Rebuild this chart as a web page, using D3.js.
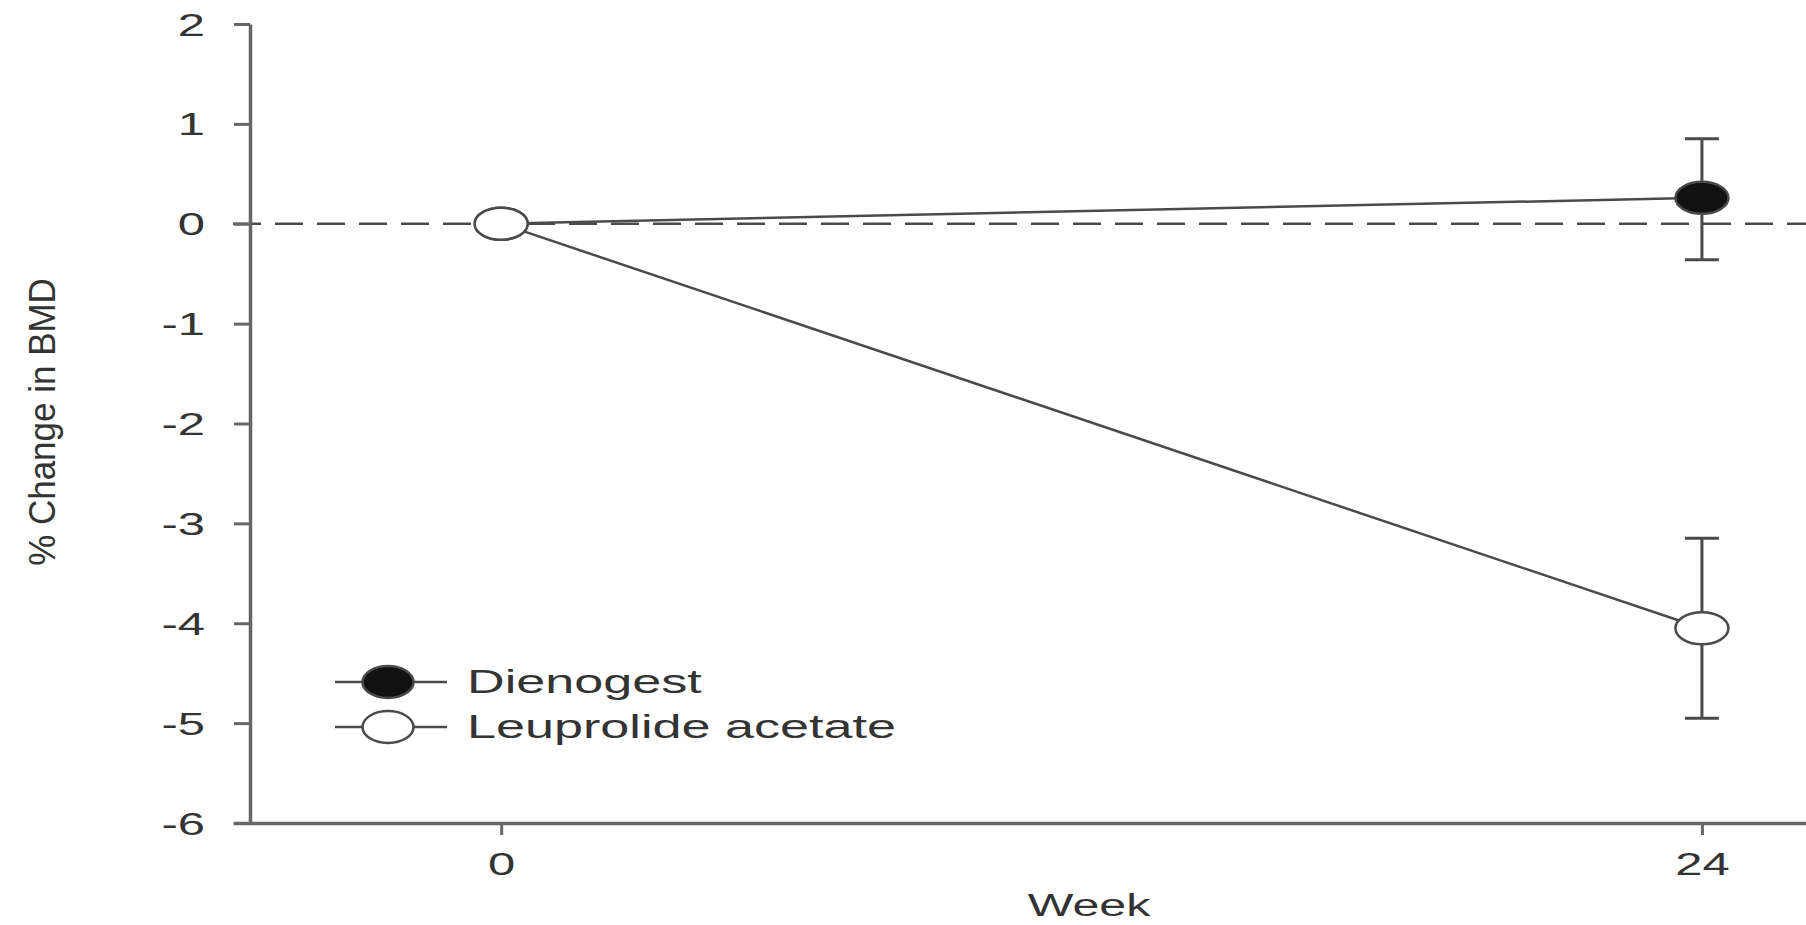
<!DOCTYPE html>
<html>
<head>
<meta charset="utf-8">
<script src="https://cdn.jsdelivr.net/npm/d3@7"></script>
<style>
  html, body { margin: 0; padding: 0; background: #fff; }
  svg { display: block; }
  text { font-family: "Liberation Sans", Arial, Helvetica, sans-serif; fill: #333; }
</style>
</head>
<body>
<svg id="chart" width="1806" height="925"></svg>
<script>
// ---- data ----
const weeks = [0, 24];
const xTickLabels = [0, 24];
const yTickLabels = [2, 1, 0, -1, -2, -3, -4, -5, -6];
const seriesNames = ["Dienogest", "Leuprolide acetate"];
const dienogestMean = [0, 0.26];
const dienogestLow  = [0, -0.36];
const dienogestHigh = [0, 0.85];
const leuprolideMean = [0, -4.05];
const leuprolideLow  = [0, -4.95];
const leuprolideHigh = [0, -3.15];
const yLabel = "% Change in BMD";
const xLabel = "Week";

// ---- layout ----
const SX = 1.58; // horizontal stretch of text in the reference
const svg = d3.select("#chart");
const x = d3.scaleLinear().domain([-5.36, 26.08]).range([233, 1806]);
const y = d3.scaleLinear().domain([-6, 2]).range([823, 24]);
const lineColor = "#4a4a4a";
const axisColor = "#666";
const fmt = d => String(d);

// zero reference line
svg.append("line")
  .attr("x1", x(-5.36)).attr("x2", 1806)
  .attr("y1", y(0)).attr("y2", y(0))
  .attr("stroke", lineColor).attr("stroke-width", 2.5)
  .attr("stroke-dasharray", "28,14");

// y axis
const yAxis = svg.append("g").attr("transform", `translate(${x(-5.36) + 17},0)`)
  .call(d3.axisLeft(y).tickValues(yTickLabels).tickSize(16).tickSizeOuter(0).tickFormat(fmt));
yAxis.select(".domain").attr("stroke", axisColor).attr("stroke-width", 3.5);
yAxis.selectAll(".tick line").attr("stroke", axisColor).attr("stroke-width", 3);
yAxis.selectAll(".tick text")
  .attr("x", 0).attr("dy", null).attr("y", 0)
  .attr("text-anchor", "end")
  .attr("transform", `translate(-45,11) scale(${SX},1)`)
  .style("font-size", "31px").style("fill", "#333")
  .style("font-family", '"Liberation Sans", Arial, sans-serif');

// x axis
const xAxis = svg.append("g").attr("transform", `translate(0,${y(-6)})`)
  .call(d3.axisBottom(x).tickValues(xTickLabels).tickSize(12).tickSizeOuter(0).tickFormat(fmt));
xAxis.select(".domain").attr("stroke", axisColor).attr("stroke-width", 3.5);
xAxis.selectAll(".tick line").attr("stroke", axisColor).attr("stroke-width", 3);
xAxis.selectAll(".tick text")
  .attr("x", 0).attr("dy", null).attr("y", 0)
  .attr("text-anchor", "middle")
  .attr("transform", `translate(0,52) scale(${SX},1)`)
  .style("font-size", "31px").style("fill", "#333")
  .style("font-family", '"Liberation Sans", Arial, sans-serif');

// axis titles
svg.append("text")
  .attr("transform", `translate(1089,916) scale(1.56,1)`)
  .attr("text-anchor", "middle")
  .style("font-size", "31px")
  .text(xLabel);
svg.append("text")
  .attr("transform", `translate(55,422) scale(1.08,1) rotate(-90)`)
  .attr("text-anchor", "middle")
  .style("font-size", "35px")
  .text(yLabel);

// series
const series = [
  { name: seriesNames[0], mean: dienogestMean, low: dienogestLow, high: dienogestHigh, fill: "#111" },
  { name: seriesNames[1], mean: leuprolideMean, low: leuprolideLow, high: leuprolideHigh, fill: "#fff" }
];
const line = d3.line().x((d, i) => x(weeks[i])).y(d => y(d));

series.forEach(s => {
  svg.append("path").attr("d", line(s.mean))
    .attr("fill", "none").attr("stroke", lineColor).attr("stroke-width", 2.5);
});

// error bars
series.forEach(s => {
  weeks.forEach((w, i) => {
    if (s.low[i] === s.high[i]) return;
    const g = svg.append("g").attr("stroke", lineColor).attr("stroke-width", 3);
    g.append("line").attr("x1", x(w)).attr("x2", x(w)).attr("y1", y(s.low[i])).attr("y2", y(s.high[i]));
    [s.low[i], s.high[i]].forEach(v => {
      g.append("line").attr("x1", x(w) - 17).attr("x2", x(w) + 17).attr("y1", y(v)).attr("y2", y(v));
    });
  });
});

// markers
series.forEach(s => {
  weeks.forEach((w, i) => {
    svg.append("ellipse")
      .attr("cx", x(w)).attr("cy", y(s.mean[i]))
      .attr("rx", 26.5).attr("ry", 16)
      .attr("fill", s.fill).attr("stroke", lineColor).attr("stroke-width", 2.5);
  });
});

// legend
const legendY = [682, 727];
series.forEach((s, i) => {
  const g = svg.append("g");
  g.append("line").attr("x1", 335).attr("x2", 447).attr("y1", legendY[i]).attr("y2", legendY[i])
    .attr("stroke", lineColor).attr("stroke-width", 2.5);
  g.append("ellipse").attr("cx", 388).attr("cy", legendY[i]).attr("rx", 25.5).attr("ry", 16)
    .attr("fill", s.fill).attr("stroke", lineColor).attr("stroke-width", 2.5);
  g.append("text")
    .attr("transform", `translate(467,${legendY[i] + 11}) scale(${SX},1)`)
    .style("font-size", "33px")
    .text(s.name);
});
</script>
</body>
</html>
